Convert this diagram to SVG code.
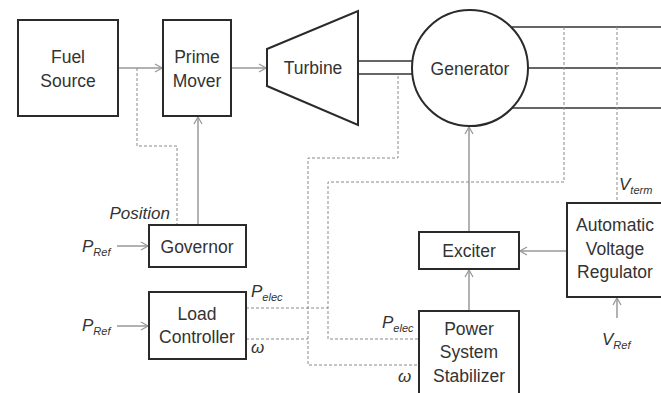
<svg xmlns="http://www.w3.org/2000/svg" width="661" height="393" viewBox="0 0 661 393">
<style>
.box{fill:#fff;stroke:#2a2a2a;stroke-width:2}
.lbl{font-family:"Liberation Sans",Arial,sans-serif;font-size:17.5px;fill:#333;text-anchor:middle}
.it{font-family:"Liberation Sans",Arial,sans-serif;font-style:italic;font-size:17px;fill:#333}
.sub{font-size:11px}
.sol{fill:none;stroke:#999;stroke-width:1.5}
.bus{fill:none;stroke:#666;stroke-width:2}
.dash{fill:none;stroke:#8a8a8a;stroke-width:1;stroke-dasharray:3,2}
</style>
<defs>
<marker id="ah" markerWidth="10" markerHeight="10" refX="8" refY="5" orient="auto" markerUnits="userSpaceOnUse">
<path d="M1,1 L8,5 L1,9" fill="none" stroke="#999" stroke-width="1.3"/>
</marker>
</defs>
<rect width="661" height="393" fill="#fff"/>
<g id="connectors">
<path class="sol" d="M118,68 H162" marker-end="url(#ah)"/>
<path class="sol" d="M231,68 H266" marker-end="url(#ah)"/>
<path class="sol" d="M198,225 V117" marker-end="url(#ah)"/>
<path class="sol" d="M117,246 H148" marker-end="url(#ah)"/>
<path class="sol" d="M117,326 H148" marker-end="url(#ah)"/>
<path class="bus" d="M358,61 H412 M358,74 H412"/>
<path class="bus" d="M512,27 H661 M527,68 H661 M512,108 H661"/>
<path class="sol" d="M469,232 V127" marker-end="url(#ah)"/>
<path class="sol" d="M567,251 H520" marker-end="url(#ah)"/>
<path class="sol" d="M469,311 V270" marker-end="url(#ah)"/>
<path class="sol" d="M617,318 V298" marker-end="url(#ah)"/>
<path class="dash" d="M137,68 V146 H177 V225"/>
<path class="dash" d="M398,76 V158 H308 V365 H419"/>
<path class="dash" d="M246,339 H308"/>
<path class="dash" d="M564,27 V182 H328 V339 H419"/>
<path class="dash" d="M246,308 H328"/>
<path class="dash" d="M617,27 V203"/>
</g>
<g id="fuel"><rect class="box" x="18" y="20" width="100" height="96"/><text class="lbl" x="68" y="63">Fuel</text><text class="lbl" x="68" y="87">Source</text></g>
<g id="prime"><rect class="box" x="163" y="20" width="68" height="96"/><text class="lbl" x="197" y="63">Prime</text><text class="lbl" x="197" y="87">Mover</text></g>
<g id="turbine"><polygon class="box" points="267,49 358,11 358,125 267,86"/><text class="lbl" x="313" y="74">Turbine</text></g>
<g id="generator"><circle class="box" cx="470" cy="68" r="58"/><text class="lbl" x="470" y="75">Generator</text></g>
<g id="governor"><rect class="box" x="149" y="225" width="97" height="42"/><text class="lbl" x="197" y="253">Governor</text>
<text class="it" x="170" y="219" text-anchor="end">Position</text>
<text class="it" x="82" y="252">P<tspan class="sub" dy="4">Ref</tspan></text></g>
<g id="loadctrl"><rect class="box" x="149" y="292" width="97" height="67"/><text class="lbl" x="197" y="320">Load</text><text class="lbl" x="197" y="343">Controller</text>
<text class="it" x="82" y="331">P<tspan class="sub" dy="4">Ref</tspan></text>
<text class="it" x="251" y="297">P<tspan class="sub" dy="4">elec</tspan></text>
<text class="it" x="251" y="353">ω</text></g>
<g id="exciter"><rect class="box" x="419" y="232" width="100" height="37"/><text class="lbl" x="469" y="257">Exciter</text></g>
<g id="avr"><rect class="box" x="567" y="203" width="97" height="94"/><text class="lbl" x="615" y="231">Automatic</text><text class="lbl" x="615" y="255">Voltage</text><text class="lbl" x="615" y="278">Regulator</text>
<text class="it" x="619" y="190">V<tspan class="sub" dy="4">term</tspan></text>
<text class="it" x="602" y="345">V<tspan class="sub" dy="4">Ref</tspan></text></g>
<g id="pss"><rect class="box" x="419" y="311" width="100" height="90"/><text class="lbl" x="469" y="335">Power</text><text class="lbl" x="469" y="358">System</text><text class="lbl" x="469" y="382">Stabilizer</text>
<text class="it" x="382" y="328">P<tspan class="sub" dy="4">elec</tspan></text>
<text class="it" x="398" y="382">ω</text></g>
</svg>
